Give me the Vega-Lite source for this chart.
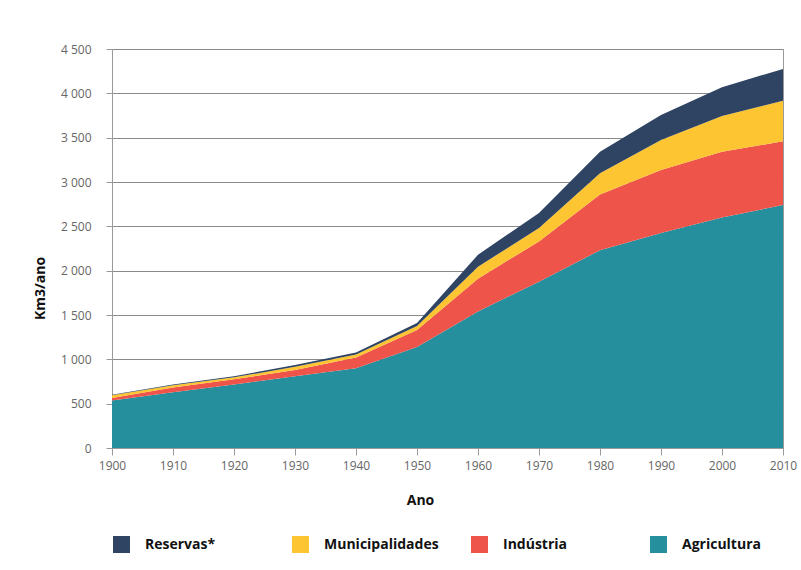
{
  "$schema": "https://vega.github.io/schema/vega-lite/v6.json",
  "autosize": "none",
  "width": 671,
  "height": 399,
  "padding": {"left": 112, "top": 49, "right": 18, "bottom": 122},
  "background": "white",
  "config": {
    "font": "Open Sans",
    "view": {"stroke": "#9a9a9a", "strokeWidth": 1}
  },
  "data": {
    "values": [
      {"ano": 1900, "setor": "Agricultura", "km3": 535},
      {"ano": 1900, "setor": "Indústria", "km3": 30},
      {"ano": 1900, "setor": "Municipalidades", "km3": 30},
      {"ano": 1900, "setor": "Reservas*", "km3": 5},
      {"ano": 1910, "setor": "Agricultura", "km3": 630},
      {"ano": 1910, "setor": "Indústria", "km3": 52},
      {"ano": 1910, "setor": "Municipalidades", "km3": 26},
      {"ano": 1910, "setor": "Reservas*", "km3": 7},
      {"ano": 1920, "setor": "Agricultura", "km3": 715},
      {"ano": 1920, "setor": "Indústria", "km3": 60},
      {"ano": 1920, "setor": "Municipalidades", "km3": 22},
      {"ano": 1920, "setor": "Reservas*", "km3": 13},
      {"ano": 1930, "setor": "Agricultura", "km3": 810},
      {"ano": 1930, "setor": "Indústria", "km3": 70},
      {"ano": 1930, "setor": "Municipalidades", "km3": 35},
      {"ano": 1930, "setor": "Reservas*", "km3": 20},
      {"ano": 1940, "setor": "Agricultura", "km3": 900},
      {"ano": 1940, "setor": "Indústria", "km3": 120},
      {"ano": 1940, "setor": "Municipalidades", "km3": 35},
      {"ano": 1940, "setor": "Reservas*", "km3": 23},
      {"ano": 1950, "setor": "Agricultura", "km3": 1140},
      {"ano": 1950, "setor": "Indústria", "km3": 190},
      {"ano": 1950, "setor": "Municipalidades", "km3": 45},
      {"ano": 1950, "setor": "Reservas*", "km3": 35},
      {"ano": 1960, "setor": "Agricultura", "km3": 1540},
      {"ano": 1960, "setor": "Indústria", "km3": 370},
      {"ano": 1960, "setor": "Municipalidades", "km3": 135},
      {"ano": 1960, "setor": "Reservas*", "km3": 135},
      {"ano": 1970, "setor": "Agricultura", "km3": 1875},
      {"ano": 1970, "setor": "Indústria", "km3": 455},
      {"ano": 1970, "setor": "Municipalidades", "km3": 150},
      {"ano": 1970, "setor": "Reservas*", "km3": 170},
      {"ano": 1980, "setor": "Agricultura", "km3": 2230},
      {"ano": 1980, "setor": "Indústria", "km3": 630},
      {"ano": 1980, "setor": "Municipalidades", "km3": 240},
      {"ano": 1980, "setor": "Reservas*", "km3": 240},
      {"ano": 1990, "setor": "Agricultura", "km3": 2425},
      {"ano": 1990, "setor": "Indústria", "km3": 710},
      {"ano": 1990, "setor": "Municipalidades", "km3": 340},
      {"ano": 1990, "setor": "Reservas*", "km3": 280},
      {"ano": 2000, "setor": "Agricultura", "km3": 2600},
      {"ano": 2000, "setor": "Indústria", "km3": 740},
      {"ano": 2000, "setor": "Municipalidades", "km3": 405},
      {"ano": 2000, "setor": "Reservas*", "km3": 325},
      {"ano": 2010, "setor": "Agricultura", "km3": 2740},
      {"ano": 2010, "setor": "Indústria", "km3": 720},
      {"ano": 2010, "setor": "Municipalidades", "km3": 455},
      {"ano": 2010, "setor": "Reservas*", "km3": 360}
    ]
  },
  "mark": {"type": "area", "interpolate": "linear"},
  "encoding": {
    "x": {
      "field": "ano",
      "type": "quantitative",
      "scale": {"domain": [1900, 2010], "nice": false, "zero": false},
      "axis": {
        "title": "Ano",
        "values": [1900, 1910, 1920, 1930, 1940, 1950, 1960, 1970, 1980, 1990, 2000, 2010],
        "format": "d",
        "grid": false,
        "labelFlush": false,
        "labelOverlap": false,
        "domainColor": "#9a9a9a",
        "tickColor": "#9a9a9a",
        "tickSize": 7,
        "labelPadding": 5,
        "labelFont": "Open Sans",
        "labelFontSize": 12,
        "labelColor": "#666666",
        "titleFont": "Open Sans",
        "titleFontSize": 14,
        "titleFontWeight": "bold",
        "titleColor": "#111111",
        "titleX": 308,
        "titleY": 52,
        "titleBaseline": "middle"
      }
    },
    "y": {
      "field": "km3",
      "type": "quantitative",
      "stack": "zero",
      "scale": {"domain": [0, 4500], "nice": false},
      "axis": {
        "title": "Km3/ano",
        "values": [0, 500, 1000, 1500, 2000, 2500, 3000, 3500, 4000, 4500],
        "labelExpr": "replace(format(datum.value, ','), ',', ' ')",
        "grid": true,
        "gridColor": "#8a8a8a",
        "gridWidth": 1,
        "domainColor": "#9a9a9a",
        "tickColor": "#9a9a9a",
        "tickSize": 6,
        "labelPadding": 15,
        "labelFont": "Open Sans",
        "labelFontSize": 12,
        "labelColor": "#666666",
        "titleFont": "Open Sans",
        "titleFontSize": 14,
        "titleFontWeight": "bold",
        "titleColor": "#111111",
        "titleX": -72,
        "titleY": 239,
        "titleAlign": "center",
        "titleBaseline": "middle"
      }
    },
    "color": {
      "field": "setor",
      "type": "nominal",
      "scale": {
        "domain": ["Reservas*", "Municipalidades", "Indústria", "Agricultura"],
        "range": ["#2f4463", "#fdc532", "#ee544a", "#258f9d"]
      },
      "legend": {
        "title": null,
        "orient": "none",
        "legendX": 1,
        "legendY": 487,
        "direction": "horizontal",
        "columns": 4,
        "gridAlign": "all",
        "columnPadding": 32,
        "symbolType": "square",
        "symbolSize": 289,
        "symbolStrokeWidth": 0,
        "symbolOpacity": 1,
        "labelOffset": 15,
        "labelFont": "Open Sans",
        "labelFontSize": 14,
        "labelFontWeight": "bold",
        "labelColor": "#111111",
        "labelLimit": 200
      }
    },
    "order": {"field": "setor", "sort": "ascending"}
  }
}
